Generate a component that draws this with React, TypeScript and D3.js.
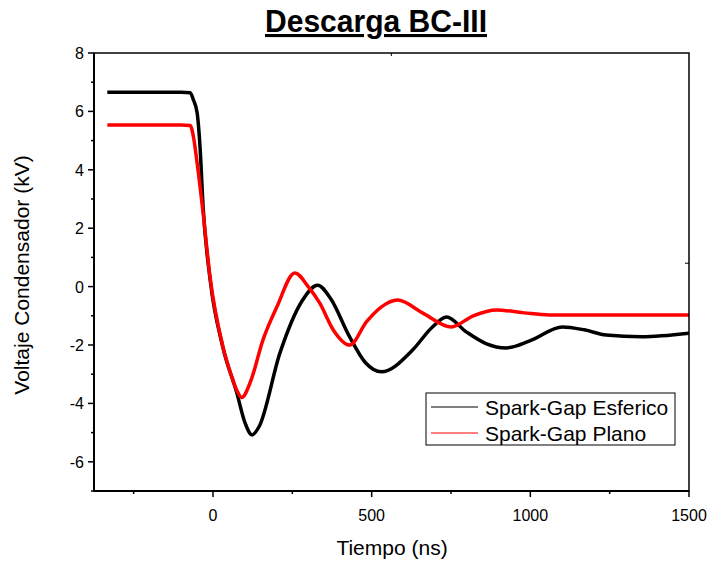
import React from "react";
import * as d3 from "d3";

const esfericoT = [-333, -200, -100, -72, -62, -50, -41, -31, -9, 31, 75, 101, 123, 145, 211, 280, 330, 370, 431, 480, 531, 629, 690, 736, 798, 860, 924, 1000, 1101, 1170, 1239, 1350, 1500];
const esfericoV = [6.66, 6.66, 6.66, 6.64, 6.4, 5.95, 4.8, 2.7, 0.23, -2.07, -3.64, -4.67, -5.08, -4.8, -2.27, -0.5, 0.05, -0.4, -1.73, -2.6, -2.92, -2.17, -1.4, -1.04, -1.55, -1.95, -2.1, -1.85, -1.38, -1.48, -1.66, -1.72, -1.6];

const planoT = [-333, -200, -100, -72, -62, -50, -31, -9, 31, 55, 75, 90, 120, 157, 201, 258, 300, 336, 380, 431, 484, 530, 582, 660, 751, 820, 893, 980, 1060, 1250, 1500];
const planoV = [5.53, 5.53, 5.53, 5.52, 5.15, 4.23, 2.5, 0.3, -2.05, -2.95, -3.55, -3.8, -3.2, -1.84, -0.7, 0.47, 0.0, -0.56, -1.5, -2.0, -1.2, -0.7, -0.46, -0.9, -1.38, -1.0, -0.8, -0.9, -0.97, -0.97, -0.97];

const yMajor = [-6, -4, -2, 0, 2, 4, 6, 8];
const yMinor = [-7, -5, -3, -1, 1, 3, 5, 7];
const xMajor = [0, 500, 1000, 1500];
const xMinor = [-250, 250, 750, 1250];
const topMinor = [562];
const rightMinor = [0.8];

const seriesNames = ["Spark-Gap Esferico", "Spark-Gap Plano"];
const seriesColors = ["#000000", "#ff0000"];

const W = 711, H = 563;
const L = 94, R = 689, T = 53, B = 491;
const font = "'Liberation Sans', Arial, sans-serif";

export default function App() {
  const x = d3.scaleLinear().domain([-375, 1500]).range([L, R]);
  const y = d3.scaleLinear().domain([-7, 8]).range([B, T]);
  const line = d3.line<[number, number]>().x(d => x(d[0])).y(d => y(d[1])).curve(d3.curveMonotoneX);
  const esf: [number, number][] = esfericoT.map((t, i) => [t, esfericoV[i]]);
  const pla: [number, number][] = planoT.map((t, i) => [t, planoV[i]]);

  return (
    <svg width={W} height={H} style={{ position: "absolute", left: 0, top: 0 }} fontFamily={font}>
      <rect width={W} height={H} fill="#fff" />
      <text x={376} y={32} textAnchor="middle" fontSize={31} fontWeight="bold" textDecoration="underline" textLength={222} lengthAdjust="spacingAndGlyphs">Descarga BC-III</text>
      <defs>
        <clipPath id="plot"><rect x={L} y={T} width={R - L} height={B - T} /></clipPath>
      </defs>
      <g clipPath="url(#plot)">
        <path d={line(esf) || ""} fill="none" stroke={seriesColors[0]} strokeWidth={3.5} />
        <path d={line(pla) || ""} fill="none" stroke={seriesColors[1]} strokeWidth={3.5} />
      </g>
      <rect x={L} y={T} width={R - L} height={B - T} fill="none" stroke="#000" strokeWidth={1.5} />
      <line x1={L} x2={L} y1={T} y2={B} stroke="#000" strokeWidth={2} />
      <line x1={L} x2={R} y1={B} y2={B} stroke="#000" strokeWidth={2} />
      {yMajor.map(v => (
        <g key={"ym" + v}>
          <line x1={L - 6} x2={L} y1={y(v)} y2={y(v)} stroke="#000" strokeWidth={1.5} />
          <text x={L - 10} y={y(v) + 6} textAnchor="end" fontSize={16}>{v}</text>
        </g>
      ))}
      {yMinor.map(v => (
        <line key={"yn" + v} x1={L - 3} x2={L} y1={y(v)} y2={y(v)} stroke="#000" strokeWidth={1.5} />
      ))}
      {xMajor.map(v => (
        <g key={"xm" + v}>
          <line x1={x(v)} x2={x(v)} y1={B} y2={B + 6} stroke="#000" strokeWidth={1.5} />
          <text x={x(v)} y={B + 30} textAnchor="middle" fontSize={16}>{v}</text>
        </g>
      ))}
      {xMinor.map(v => (
        <line key={"xn" + v} x1={x(v)} x2={x(v)} y1={B} y2={B + 3} stroke="#000" strokeWidth={1.5} />
      ))}
      {topMinor.map(v => (
        <line key={"tn" + v} x1={x(v)} x2={x(v)} y1={T} y2={T + 3} stroke="#000" strokeWidth={1} />
      ))}
      {rightMinor.map(v => (
        <line key={"rn" + v} x1={R - 4} x2={R} y1={y(v)} y2={y(v)} stroke="#000" strokeWidth={1} />
      ))}
      <text x={392} y={555} textAnchor="middle" fontSize={21}>Tiempo (ns)</text>
      <text transform={`translate(29,275) rotate(-90)`} textAnchor="middle" fontSize={21}>Voltaje Condensador (kV)</text>
      <rect x={426} y={393} width={249} height={52} fill="#fff" stroke="#000" strokeWidth={1} />
      {seriesNames.map((n, i) => (
        <g key={n}>
          <line x1={431} x2={478} y1={407 + i * 26} y2={407 + i * 26} stroke={seriesColors[i]} strokeWidth={1} />
          <text x={485} y={414.5 + i * 26} fontSize={21}>{n}</text>
        </g>
      ))}
    </svg>
  );
}
